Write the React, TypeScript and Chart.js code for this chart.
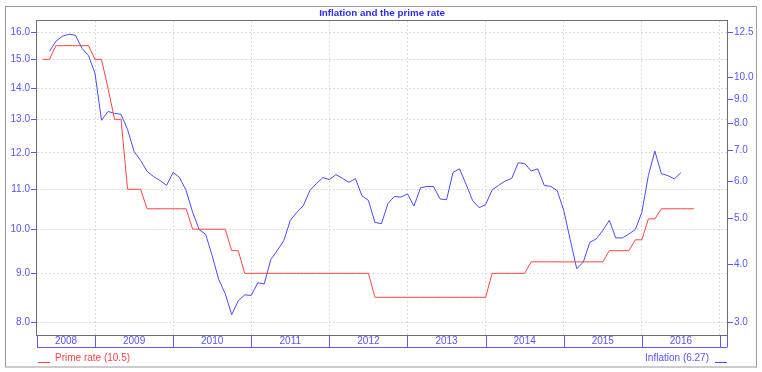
import React, { useEffect, useRef } from "react";
import { Chart, registerables } from "chart.js";

Chart.register(...registerables);

// ---- Data ----
const TITLE = "Inflation and the prime rate";
const YEAR_LABELS = ["2008", "2009", "2010", "2011", "2012", "2013", "2014", "2015", "2016"];
const LEFT_TICKS = [8, 9, 10, 11, 12, 13, 14, 15, 16];
const RIGHT_TICKS = [3, 4, 5, 6, 7, 8, 9, 10, 12.5];

const PRIME_LABEL = "Prime rate";
const PRIME_START = "2008-05";
const PRIME_RATE = [
  // 2008 May-Dec
  15, 15, 15.5, 15.5, 15.5, 15.5, 15.5, 15.5,
  // 2009
  15, 15, 14, 13, 13, 11, 11, 11, 10.5, 10.5, 10.5, 10.5,
  // 2010
  10.5, 10.5, 10.5, 10, 10, 10, 10, 10, 10, 9.5, 9.5, 9,
  // 2011
  9, 9, 9, 9, 9, 9, 9, 9, 9, 9, 9, 9,
  // 2012
  9, 9, 9, 9, 9, 9, 9, 8.5, 8.5, 8.5, 8.5, 8.5,
  // 2013
  8.5, 8.5, 8.5, 8.5, 8.5, 8.5, 8.5, 8.5, 8.5, 8.5, 8.5, 8.5,
  // 2014
  8.5, 9, 9, 9, 9, 9, 9, 9.25, 9.25, 9.25, 9.25, 9.25,
  // 2015
  9.25, 9.25, 9.25, 9.25, 9.25, 9.25, 9.25, 9.5, 9.5, 9.5, 9.5, 9.75,
  // 2016 Jan-Sep
  9.75, 10.25, 10.25, 10.5, 10.5, 10.5, 10.5, 10.5, 10.5,
];

const INFLATION_LABEL = "Inflation";
const INFLATION_START = "2008-06";
const INFLATION = [
  // 2008 Jun-Dec
  11.38, 11.96, 12.26, 12.38, 12.32, 11.55, 11.15,
  // 2009
  10.21, 8.11, 8.47, 8.39, 8.35, 7.75, 6.96, 6.66, 6.31, 6.15, 6.03, 5.89,
  // 2010
  6.28, 6.12, 5.74, 5.16, 4.74, 4.63, 4.17, 3.71, 3.46, 3.12, 3.34, 3.44,
  // 2011
  3.43, 3.65, 3.63, 4.09, 4.28, 4.49, 4.96, 5.16, 5.33, 5.74, 5.94, 6.12,
  // 2012
  6.06, 6.21, 6.1, 5.98, 6.09, 5.6, 5.47, 4.91, 4.88, 5.39, 5.58, 5.56,
  // 2013
  5.65, 5.32, 5.82, 5.86, 5.86, 5.51, 5.49, 6.28, 6.39, 5.92, 5.47, 5.28,
  // 2014
  5.36, 5.76, 5.89, 6.02, 6.09, 6.58, 6.56, 6.32, 6.39, 5.89, 5.86, 5.74,
  // 2015
  5.21, 4.51, 3.91, 4.04, 4.45, 4.53, 4.72, 4.96, 4.55, 4.55, 4.64, 4.74,
  // 2016 Jan-Jul
  5.16, 6.18, 6.97, 6.24, 6.18, 6.08, 6.27,
];

// ---- helpers ----
const BASE_YEAR = 2008;
function monthIndex(ym: string): number {
  const [y, m] = ym.split("-").map(Number);
  return (y - BASE_YEAR) * 12 + (m - 1);
}
function toPoints(start: string, values: number[]) {
  const s = monthIndex(start);
  return values.map((v, i) => ({ x: s + i, y: v }));
}

const FONT = "'Liberation Sans', Arial, Helvetica, sans-serif";
const BLUE_TEXT = "#5555ff";
const TITLE_BLUE = "#2c2cff";
const RED = "#ff4444";
const BLUE = "#4a4aff";
const GRID = "#dcdcdc";

const X_MIN = 3.09;
const X_MAX = 109.08;

const decorPlugin = {
  id: "decor",
  afterDraw(chart: any) {
    const ctx = chart.ctx as CanvasRenderingContext2D;
    const { left, right, top, bottom } = chart.chartArea;
    const xs = chart.scales.x;
    ctx.save();

    // outer frame
    ctx.strokeStyle = "#9a9a9a";
    ctx.lineWidth = 1;
    ctx.strokeRect(5.5, 6.5, 751, 360.5);

    // title
    ctx.fillStyle = TITLE_BLUE;
    ctx.font = `bold 9.8px ${FONT}`;
    ctx.textAlign = "center";
    ctx.textBaseline = "middle";
    ctx.fillText(TITLE, (left + right) / 2, 13.5);

    // plot frame
    ctx.strokeStyle = "#6e6e6e";
    ctx.lineWidth = 1;
    ctx.strokeRect(Math.round(left) - 0.5, Math.round(top) - 0.5, Math.round(right - left) + 1, Math.round(bottom - top) + 1);

    // year band
    const bandTop = Math.round(bottom);
    const bandBottom = bandTop + 12;
    ctx.strokeStyle = "#5b5bff";
    ctx.beginPath();
    ctx.moveTo(left, bandBottom + 0.5);
    ctx.lineTo(right + 0.5, bandBottom + 0.5);
    ctx.stroke();
    const bounds: number[] = [];
    for (let i = 0; i <= YEAR_LABELS.length; i++) {
      const yr = Number(YEAR_LABELS[0]) + i;
      let px = xs.getPixelForValue(monthIndex(`${yr}-01`));
      px = Math.max(left, Math.min(right, px));
      bounds.push(px);
    }
    const edges = [left, ...bounds.slice(1), right];
    const drawn = new Set<number>();
    edges.forEach((px) => {
      const r = Math.round(px);
      if (drawn.has(r)) return;
      drawn.add(r);
      ctx.beginPath();
      ctx.moveTo(r + 0.5, bandTop);
      ctx.lineTo(r + 0.5, bandBottom);
      ctx.stroke();
    });
    ctx.fillStyle = BLUE_TEXT;
    ctx.font = `10px ${FONT}`;
    ctx.textAlign = "center";
    ctx.textBaseline = "middle";
    YEAR_LABELS.forEach((lab, i) => {
      const a = i === 0 ? left : bounds[i];
      const b = bounds[i + 1];
      ctx.fillText(lab, (a + b) / 2, bandTop + 6.5);
    });

    // legend
    const ly = 358.5;
    const primeLast = PRIME_RATE[PRIME_RATE.length - 1];
    const inflLast = INFLATION[INFLATION.length - 1];
    ctx.textBaseline = "middle";
    ctx.strokeStyle = RED;
    ctx.beginPath();
    ctx.moveTo(left + 1, 362.5);
    ctx.lineTo(left + 13, 362.5);
    ctx.stroke();
    ctx.fillStyle = RED;
    ctx.textAlign = "left";
    ctx.fillText(`${PRIME_LABEL} (${primeLast})`, left + 18, ly);

    ctx.strokeStyle = BLUE;
    ctx.beginPath();
    ctx.moveTo(right - 12, 362.5);
    ctx.lineTo(right, 362.5);
    ctx.stroke();
    ctx.fillStyle = BLUE_TEXT;
    ctx.textAlign = "right";
    ctx.fillText(`${INFLATION_LABEL} (${inflLast})`, right - 18, ly);

    ctx.restore();
  },
};

export default function App() {
  const ref = useRef<HTMLCanvasElement | null>(null);

  useEffect(() => {
    if (!ref.current) return;
    const chart = new Chart(ref.current, {
      type: "line",
      data: {
        datasets: [
          {
            label: PRIME_LABEL,
            data: toPoints(PRIME_START, PRIME_RATE),
            yAxisID: "yL",
            borderColor: RED,
            borderWidth: 1,
            pointRadius: 0,
            tension: 0,
            fill: false,
          },
          {
            label: INFLATION_LABEL,
            data: toPoints(INFLATION_START, INFLATION),
            yAxisID: "yR",
            borderColor: BLUE,
            borderWidth: 1,
            pointRadius: 0,
            tension: 0,
            fill: false,
          },
        ],
      },
      options: {
        animation: false,
        responsive: false,
        devicePixelRatio: 1,
        layout: { padding: { top: 21, bottom: 37, left: 0, right: 0 } },
        font: { family: FONT, size: 10 },
        plugins: {
          legend: { display: false },
          title: { display: false },
          tooltip: { enabled: false },
        },
        scales: {
          x: {
            type: "linear",
            min: X_MIN,
            max: X_MAX,
            afterBuildTicks: (axis: any) => {
              axis.ticks = YEAR_LABELS.map((y) => ({ value: monthIndex(`${Number(y) + 1}-01`) }));
            },
            afterFit: (axis: any) => {
              axis.height = 0;
            },
            ticks: { display: false },
            grid: { color: GRID, drawTicks: false, lineWidth: 1 },
            border: { display: false, dash: [2, 2] },
          },
          yL: {
            type: "logarithmic",
            position: "left",
            min: 7.768,
            max: 16.44,
            afterBuildTicks: (axis: any) => {
              axis.ticks = LEFT_TICKS.map((v) => ({ value: v }));
            },
            afterFit: (axis: any) => {
              axis.width = 37;
            },
            ticks: {
              autoSkip: false,
              color: BLUE_TEXT,
              font: { family: FONT, size: 10 },
              padding: 1,
              callback: (v: any) => Number(v).toFixed(1),
            },
            grid: {
              color: GRID,
              tickColor: BLUE_TEXT,
              tickLength: 6,
              tickBorderDash: [],
              drawTicks: true,
            },
            border: { display: false, dash: [2, 2] },
          },
          yR: {
            type: "logarithmic",
            position: "right",
            min: 2.824,
            max: 13.21,
            afterBuildTicks: (axis: any) => {
              axis.ticks = RIGHT_TICKS.map((v) => ({ value: v }));
            },
            afterFit: (axis: any) => {
              axis.width = 35;
            },
            ticks: {
              autoSkip: false,
              color: BLUE_TEXT,
              font: { family: FONT, size: 10 },
              padding: 1,
              callback: (v: any) => Number(v).toFixed(1),
            },
            grid: {
              drawOnChartArea: false,
              tickColor: BLUE_TEXT,
              tickLength: 6,
              tickBorderDash: [],
              drawTicks: true,
            },
            border: { display: false },
          },
        },
      } as any,
      plugins: [decorPlugin],
    });
    return () => chart.destroy();
  }, []);

  return (
    <div style={{ position: "fixed", left: 0, top: 0, width: 762, height: 372, background: "#fff" }}>
      <canvas ref={ref} width={762} height={372} style={{ width: 762, height: 372, display: "block" }} />
    </div>
  );
}
